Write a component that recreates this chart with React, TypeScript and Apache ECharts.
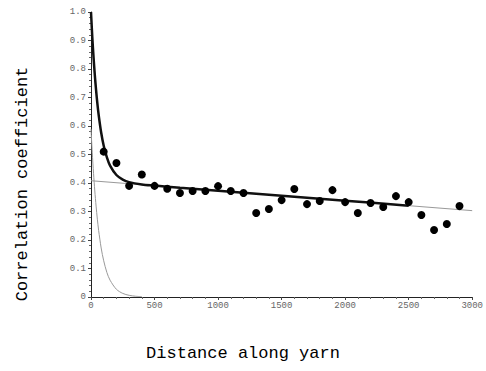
import React, { useEffect, useRef } from "react";
import * as echarts from "echarts";

// Measured data points (distance along yarn, correlation coefficient)
const dotX = [100, 200, 300, 400, 500, 600, 700, 800, 900, 1000, 1100, 1200, 1300, 1400, 1500, 1600, 1700, 1800, 1900, 2000, 2100, 2200, 2300, 2400, 2500, 2600, 2700, 2800, 2900];
const dotY = [0.51, 0.47, 0.39, 0.43, 0.39, 0.38, 0.365, 0.372, 0.372, 0.389, 0.372, 0.365, 0.295, 0.309, 0.34, 0.379, 0.326, 0.337, 0.375, 0.333, 0.295, 0.33, 0.316, 0.354, 0.333, 0.288, 0.235, 0.256, 0.319];

// Fitted curve (thick)
const fitX = [0, 10, 20, 30, 40, 50, 60, 80, 100, 125, 150, 200, 250, 300, 400, 500, 700, 1000, 1500, 2000, 2500];
const fitY = [1.0, 0.913, 0.841, 0.779, 0.726, 0.679, 0.64, 0.577, 0.531, 0.49, 0.461, 0.428, 0.412, 0.403, 0.395, 0.391, 0.3835, 0.373, 0.3555, 0.338, 0.3205];

// Short-range component (thin grey)
const shortX = [0, 10, 20, 30, 40, 50, 60, 80, 100, 125, 150, 200, 250, 300, 350, 400];
const shortY = [0.59, 0.506, 0.434, 0.372, 0.319, 0.273, 0.234, 0.172, 0.127, 0.086, 0.059, 0.027, 0.0126, 0.0059, 0.0027, 0.0012];

// Long-range component (thin grey straight line)
const longX = [0, 3000];
const longY = [0.408, 0.303];

const xTitle = "Distance along yarn";
const yTitle = "Correlation coefficient";

const zip = (xs: number[], ys: number[]) => xs.map((x, i) => [x, ys[i]]);

export default function App() {
  const ref = useRef<HTMLDivElement>(null);
  useEffect(() => {
    if (!ref.current) return;
    const chart = echarts.init(ref.current, null, { renderer: "svg" });
    const mono = "'Liberation Mono', 'DejaVu Sans Mono', monospace";
    chart.setOption({
      animation: false,
      backgroundColor: "#ffffff",
      grid: { left: 91, right: 9, top: 12, bottom: 74 },
      graphic: [
        {
          type: "text",
          x: 243,
          y: 353,
          style: {
            text: xTitle,
            fontFamily: mono,
            fontSize: 17,
            fill: "#000",
            align: "center",
            verticalAlign: "middle",
          },
        },
        {
          type: "text",
          x: 22,
          y: 184,
          rotation: Math.PI / 2,
          style: {
            text: yTitle,
            fontFamily: mono,
            fontSize: 17,
            fill: "#000",
            align: "center",
            verticalAlign: "middle",
          },
        },
      ],
      xAxis: {
        type: "value",
        min: 0,
        max: 3000,
        interval: 500,
        axisLine: { lineStyle: { color: "#222", width: 1 } },
        axisTick: { length: 3, lineStyle: { color: "#444" } },
        minorTick: { show: true, splitNumber: 5, length: 2, lineStyle: { color: "#666" } },
        axisLabel: {
          fontFamily: mono,
          fontSize: 9,
          color: "#666",
          margin: 4,
          formatter: (v: number) => String(v),
        },
        splitLine: { show: false },
      },
      yAxis: {
        type: "value",
        min: 0,
        max: 1,
        interval: 0.1,
        axisLine: { show: true, lineStyle: { color: "#222", width: 1 } },
        axisTick: { show: true, length: 3, lineStyle: { color: "#444" } },
        minorTick: { show: true, splitNumber: 5, length: 2, lineStyle: { color: "#666" } },
        axisLabel: {
          fontFamily: mono,
          fontSize: 9,
          color: "#666",
          margin: 5,
          formatter: (v: number) => (v === 0 ? "0" : v.toFixed(1)),
        },
        splitLine: { show: false },
      },
      series: [
        {
          type: "line",
          data: zip(longX, longY),
          showSymbol: false,
          symbol: "none",
          lineStyle: { color: "#999", width: 1 },
          z: 1,
        },
        {
          type: "line",
          data: zip(shortX, shortY),
          showSymbol: false,
          symbol: "none",
          smooth: 0.3,
          lineStyle: { color: "#999", width: 1 },
          z: 1,
        },
        {
          type: "line",
          data: zip(fitX, fitY),
          showSymbol: false,
          symbol: "none",
          smooth: 0.3,
          lineStyle: { color: "#111", width: 2.5 },
          z: 2,
        },
        {
          type: "scatter",
          data: zip(dotX, dotY),
          symbol: "circle",
          symbolSize: 8,
          itemStyle: { color: "#000", opacity: 1 },
          z: 3,
        },
      ],
    });
    return () => chart.dispose();
  }, []);
  return <div ref={ref} style={{ width: 486, height: 371, position: "absolute", left: 0, top: 0 }} />;
}
